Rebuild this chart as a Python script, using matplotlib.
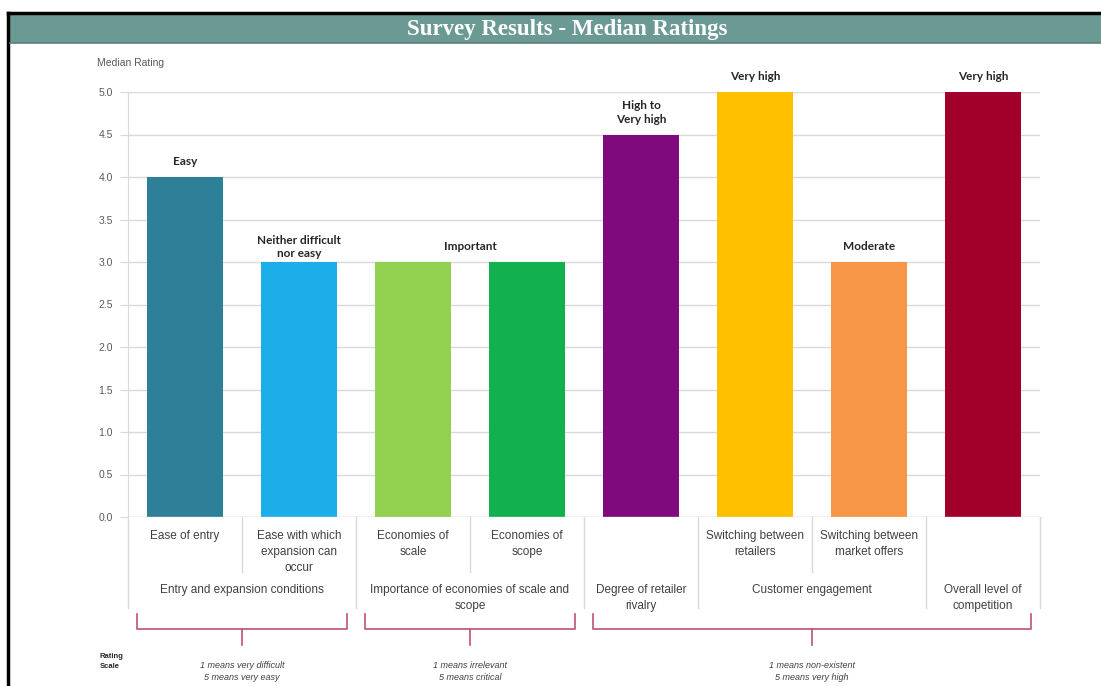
import matplotlib.pyplot as plt
from matplotlib.patches import Rectangle
from matplotlib.lines import Line2D

# ---- data ----
categories = [
    "Ease of entry",
    "Ease with which\nexpansion can\noccur",
    "Economies of\nscale",
    "Economies of\nscope",
    "",
    "Switching between\nretailers",
    "Switching between\nmarket offers",
    "",
]
medians = [4.0, 3.0, 3.0, 3.0, 4.5, 5.0, 3.0, 5.0]
bar_colors = ["#2E7F98", "#1CAEE8", "#92D050", "#12B04F",
              "#7E0A7E", "#FFC000", "#F79646", "#A0002A"]

rating_labels = ["Easy", "Neither difficult\nnor easy", "Important",
                 "High to\nVery high", "Very high", "Moderate", "Very high"]
rating_spans = [(0, 0), (1, 1), (2, 3), (4, 4), (5, 5), (6, 6), (7, 7)]

groups = ["Entry and expansion conditions",
          "Importance of economies of scale and\nscope",
          "Degree of retailer\nrivalry",
          "Customer engagement",
          "Overall level of\ncompetition"]
group_spans = [(0, 1), (2, 3), (4, 4), (5, 6), (7, 7)]

scale_texts = ["1 means very difficult\n5 means very easy",
               "1 means irrelevant\n5 means critical",
               "1 means non-existent\n5 means very high"]
scale_spans = [(0, 1), (2, 3), (4, 7)]

yticks = [0.0, 0.5, 1.0, 1.5, 2.0, 2.5, 3.0, 3.5, 4.0, 4.5, 5.0]

# ---- figure ----
W, H = 1101, 686
fig = plt.figure(figsize=(W / 100, H / 100), dpi=100)
fig.patch.set_facecolor("white")

def fx(px):
    return px / W

def fy(py):
    return 1 - py / H

# title banner and the black frame edges
fig.patches.append(Rectangle((fx(10), fy(43)), 1, 30 / H, transform=fig.transFigure,
                             facecolor="#6B9A94", edgecolor="none", zorder=0))
fig.lines.append(Line2D([fx(8), 1], [fy(13), fy(13)], transform=fig.transFigure,
                        color="black", lw=2.5))
fig.lines.append(Line2D([fx(8), fx(8)], [fy(13), 0], transform=fig.transFigure,
                        color="black", lw=2.5))
fig.lines.append(Line2D([fx(10), 1], [fy(43), fy(43)], transform=fig.transFigure,
                        color="#5E7E7A", lw=1.2))
fig.text(0.515, fy(29), "Survey Results - Median Ratings", ha="center", va="center",
         color="white", fontsize=16.5, fontweight="bold", family="Liberation Serif")

ax = fig.add_axes([fx(128), fy(517), fx(1040) - fx(128), (517 - 92) / H])
x = list(range(len(categories)))
ax.bar(x, medians, width=0.67, color=bar_colors, zorder=3)

ax.set_xlim(-0.5, len(categories) - 0.5)
ax.set_ylim(0, 5)
ax.set_yticks(yticks)
ax.set_yticklabels([f"{v:.1f}" for v in yticks], fontsize=7.5, color="#595959",
                   family="Liberation Sans")
ax.set_xticks([])
ax.yaxis.grid(True, color="#D9D9D9", lw=1, zorder=0)
ax.tick_params(axis="y", length=6, color="#D9D9D9", pad=5)
for s in ["top", "right", "bottom"]:
    ax.spines[s].set_visible(False)
ax.spines["left"].set_color("#D9D9D9")
ax.axhline(0, color="#D9D9D9", lw=1, zorder=4)

fig.text(fx(97), fy(63), "Median Rating", ha="left", va="center", fontsize=7.5,
         color="#595959", family="Liberation Sans")

# rating labels above bars
for lab, (a, b) in zip(rating_labels, rating_spans):
    xc = (a + b) / 2
    top = max(medians[a:b + 1])
    pad = 2 if "\n" in lab and a == 1 else 7
    ax.annotate(lab, (xc, top), xytext=(0, pad), textcoords="offset points",
                ha="center", va="bottom", fontsize=8.5, fontweight="bold",
                family="Lato", color="#262626", linespacing=1.3, zorder=5)

# category table below the axis
tr = ax.get_xaxis_transform()
grey = "#D9D9D9"
for i, cat in enumerate(categories):
    if cat:
        ax.text(i, -0.030, cat, transform=tr, ha="center", va="top", fontsize=8.5,
                color="#404040", family="Liberation Sans", linespacing=1.45)

long_edges = sorted({-0.5} | {b + 0.5 for _, b in group_spans})
short_edges = [i + 0.5 for a, b in group_spans for i in range(a, b)]
for e in long_edges:
    ax.plot([e, e], [0, -0.214], transform=tr, color=grey, lw=1, clip_on=False)
for e in short_edges:
    ax.plot([e, e], [0, -0.130], transform=tr, color=grey, lw=1, clip_on=False)

for g, (a, b) in zip(groups, group_spans):
    ax.text((a + b) / 2, -0.158, g, transform=tr, ha="center", va="top", fontsize=8.5,
            color="#404040", family="Liberation Sans", linespacing=1.45)

# brackets and rating scale notes
bcol = "#BE5274"
for txt, (a, b) in zip(scale_texts, scale_spans):
    x0, x1 = a - 0.42, b + 0.42
    xm = (a + b) / 2
    ax.plot([x0, x0, x1, x1], [-0.228, -0.264, -0.264, -0.228], transform=tr,
            color=bcol, lw=1.2, clip_on=False)
    ax.plot([xm, xm], [-0.264, -0.300], transform=tr, color=bcol, lw=1.2, clip_on=False)
    ax.text(xm, -0.338, txt, transform=tr, ha="center", va="top", fontsize=6.5,
            style="italic", color="#404040", family="Liberation Sans", linespacing=1.5)

fig.text(fx(100), fy(661), "Rating\nScale", ha="left", va="center", fontsize=5.5,
         fontweight="bold", color="#262626", family="Liberation Sans", linespacing=1.6)

fig.savefig("out.png", dpi=100)
